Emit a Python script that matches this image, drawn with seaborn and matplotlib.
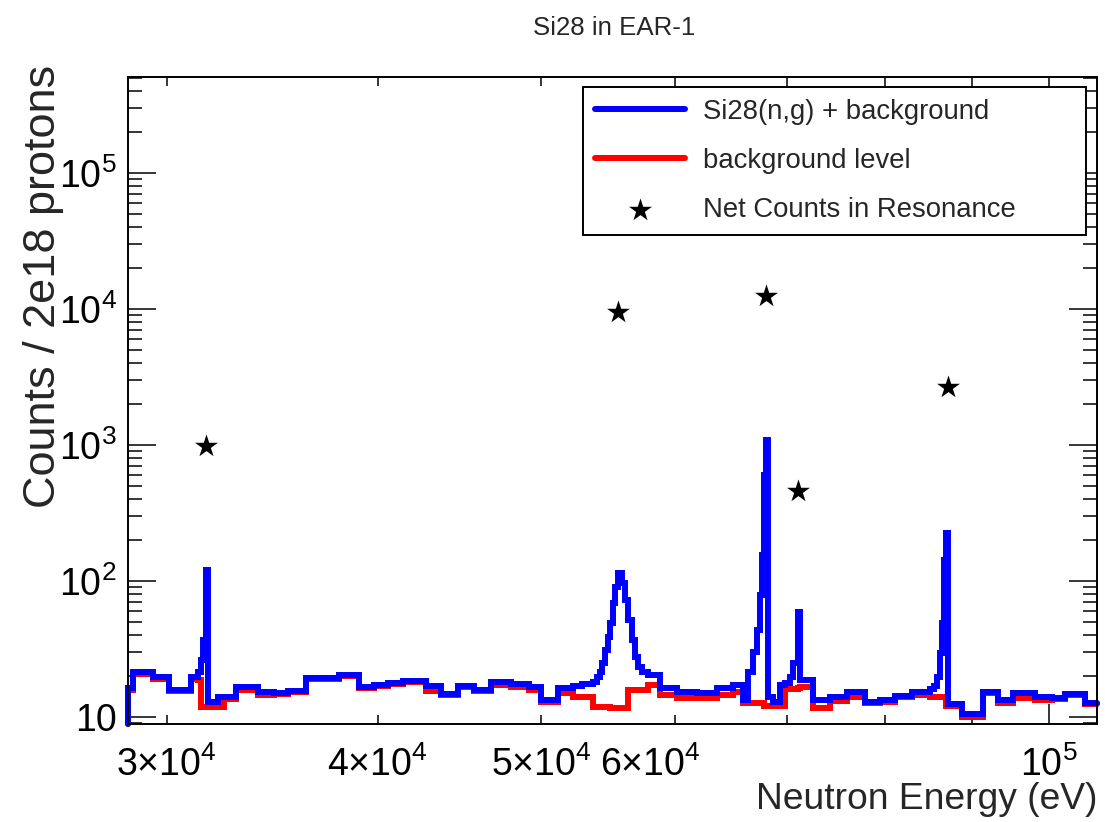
import numpy as np
import pandas as pd
import matplotlib
matplotlib.use("Agg")
import matplotlib.pyplot as plt
from matplotlib import ticker
from matplotlib.transforms import ScaledTranslation
import seaborn as sns

sns.set_style("ticks")
plt.rcParams['font.family'] = ['Liberation Sans', 'DejaVu Sans']
plt.rcParams['mathtext.default'] = 'regular'

# histogram bin edges (eV)
bin_edges = [28450, 28640, 29433, 30082, 30998, 31296, 31424, 31510, 31639, 31726,
             32161, 32426, 32961, 33965, 34714, 35384, 36263, 37933, 38982, 39788,
             40555, 41394, 42713, 43596, 44619, 45603, 46673, 47964, 49156, 49967,
             51140, 52268, 52914, 53714, 54007, 54229, 54377, 54600, 54824, 54974,
             55199, 55350, 55577, 55881, 56110, 56340, 56648, 56881, 57114, 57426,
             57898, 58854, 60235, 61900, 63612, 65016, 65909, 66360, 66814, 67180,
             67455, 67640, 67778, 67963, 68149, 68662, 69321, 69795, 70273, 70561,
             70996, 71190, 72513, 74214, 75955, 77843, 79452, 81095, 82997, 85060,
             85525, 85876, 86228, 86464, 86700, 86937, 87174, 88855, 91437, 93327,
             95257, 98159, 100462, 102259, 105087, 106820]

# Si28(n,g) + background, counts per bin
signal_counts = [16.3, 21.4, 19.7, 15.8, 19.7, 21.4, 26.3, 36.8, 120, 12.9,
                 14.0, 14.0, 16.6, 15.3, 15.0, 15.5, 19.4, 20.4, 16.6, 17.2,
                 17.8, 18.4, 16.9, 14.8, 16.9, 15.8, 18.1, 17.5, 16.6, 13.3,
                 16.3, 16.9, 17.5, 18.1, 19.7, 21.4, 24.9, 31.1, 38.7, 49.1,
                 68.9, 90.3, 114.5, 96.7, 72.5, 51.7, 36.8, 27.6, 23.3, 21.4,
                 20.4, 16.3, 15.3, 15.0, 16.3, 17.2, 13.3, 21.4, 30.1, 43.6,
                 78.9, 155, 601, 1088, 14.0, 12.9, 17.2, 17.8, 19.7, 24.9,
                 59.2, 18.7, 13.3, 14.0, 15.3, 12.9, 13.3, 14.3, 15.3, 16.1,
                 16.9, 19.7, 29.6, 49.1, 142.7, 225, 12.5, 10.5, 15.3, 13.3,
                 15.0, 14.0, 13.8, 14.8, 12.7]

# background level, counts per bin
background_counts = [15.8, 20.8, 19.0, 15.5, 19.0, 18.7, 11.8, 11.8, 11.8, 11.8,
                     11.8, 13.6, 15.8, 14.5, 14.8, 15.3, 19.0, 20.0, 16.3, 16.9,
                     17.5, 18.1, 15.5, 14.5, 16.6, 15.5, 17.2, 16.6, 15.8, 12.9,
                     15.0, 14.0, 14.0, 11.8, 11.8, 11.8, 11.8, 11.8, 11.8, 11.6,
                     11.6, 11.6, 11.6, 11.6, 11.6, 15.8, 15.8, 15.8, 15.8, 15.8,
                     17.2, 14.5, 13.8, 13.8, 14.5, 15.3, 12.7, 12.7, 12.7, 12.7,
                     12.7, 12.7, 12.0, 12.0, 12.0, 12.0, 12.0, 16.1, 16.1, 16.1,
                     16.3, 16.6, 11.6, 13.1, 14.0, 12.7, 12.9, 14.0, 14.5, 14.0,
                     14.0, 14.0, 14.0, 14.0, 14.0, 12.0, 12.0, 10.0, 15.0, 12.7,
                     13.8, 13.3, 13.6, 14.5, 12.5]

# net counts in resonance
star_energy = [31640, 55580, 68010, 71050, 87180]
star_counts = [985, 9500, 12500, 460, 2670]

legend_labels = ['Si28(n,g) + background', 'background level', 'Net Counts in Resonance']
x_minor_ticks = [3e4, 4e4, 5e4, 6e4, 7e4, 8e4, 9e4]
x_minor_labels = ['3×$10^{4}$', '4×$10^{4}$', '5×$10^{4}$', '6×$10^{4}$', '', '', '']
y_major_ticks = [10, 1e2, 1e3, 1e4, 1e5]
y_major_labels = ['10', '$10^{2}$', '$10^{3}$', '$10^{4}$', '$10^{5}$']

xlim = (28450, 106820)
ylim = (8.88, 5.08e5)


def step_frame(edges, counts):
    # ROOT style histogram outline, starting from the bottom of the frame
    return pd.DataFrame({'energy': [edges[0]] + list(edges),
                         'counts': [ylim[0]] + list(counts) + [counts[-1]]})


fig = plt.figure(figsize=(11.05, 8.22), dpi=100)
ax = fig.add_axes([0.1158, 0.1192, 0.8770, 0.7871])
ax.set_xscale('log')
ax.set_yscale('log')

sns.lineplot(data=step_frame(bin_edges, background_counts), x='energy', y='counts',
             drawstyle='steps-post', color='#ff0000', lw=4.3, estimator=None,
             sort=False, ax=ax, clip_on=False, solid_joinstyle='miter')
bkg_line = ax.lines[-1]
sns.lineplot(data=step_frame(bin_edges, signal_counts), x='energy', y='counts',
             drawstyle='steps-post', color='#0000ff', lw=4.3, estimator=None,
             sort=False, ax=ax, clip_on=False, solid_joinstyle='miter')
sig_line = ax.lines[-1]
sns.scatterplot(x=star_energy, y=star_counts, marker='*', s=300, color='black',
                linewidth=0, ax=ax, zorder=5)
stars = ax.collections[-1]

ax.set_xlim(*xlim)
ax.set_ylim(*ylim)

# ticks
ax.xaxis.set_major_locator(ticker.FixedLocator([1e5]))
ax.xaxis.set_major_formatter(ticker.FixedFormatter(['$10^{5}$']))
ax.xaxis.set_minor_locator(ticker.FixedLocator(x_minor_ticks))
ax.xaxis.set_minor_formatter(ticker.FixedFormatter(x_minor_labels))
ax.yaxis.set_major_locator(ticker.FixedLocator(y_major_ticks))
ax.yaxis.set_major_formatter(ticker.FixedFormatter(y_major_labels))
ax.yaxis.set_minor_locator(ticker.LogLocator(base=10, subs=np.arange(2, 10), numticks=30))
ax.yaxis.set_minor_formatter(ticker.NullFormatter())

ax.tick_params(axis='both', which='both', direction='in', top=True, right=True,
               width=1.1, color='black', labelcolor='black')
ax.tick_params(axis='x', which='major', length=14.4, labelsize=27, pad=16)
ax.tick_params(axis='x', which='minor', length=6.5, labelsize=27, pad=16)
ax.tick_params(axis='y', which='major', length=20, labelsize=27, pad=8)
ax.tick_params(axis='y', which='minor', length=10)
for sp in ax.spines.values():
    sp.set_linewidth(1.4)
    sp.set_color('black')

ax.set_xlabel('Neutron Energy (eV)', fontsize=26.8, loc='right', va='baseline')
ax.xaxis.set_label_coords(1.0, -0.1315)
ax.set_ylabel('Counts / 2e18 protons', fontsize=32.5, loc='top')
ax.yaxis.set_label_coords(-0.066, 1.0185)

fig.text(614 / 1105, 1 - 28 / 822, 'Si28 in EAR-1', ha='center', va='center', fontsize=18.6)

leg = ax.legend(handles=[sig_line, bkg_line, stars], labels=legend_labels,
                loc='upper left', bbox_to_anchor=(0.4696, 0.7589, 0.519, 0.2256),
                mode='expand', borderaxespad=0, frameon=True, fancybox=False,
                edgecolor='black', framealpha=1, fontsize=19.8, handlelength=3.3,
                handletextpad=0.65, labelspacing=0.85, borderpad=0.42, scatterpoints=1)
leg.get_frame().set_linewidth(1.4)

# ROOT shifts the 6x10^4 label left
fig.canvas.draw()
for t in ax.xaxis.get_minor_ticks():
    if abs(t.get_loc() - 6e4) < 1:
        t.label1.set_transform(t.label1.get_transform() +
                               ScaledTranslation(-0.24, 0, fig.dpi_scale_trans))

fig.savefig('out.png', dpi=100)
